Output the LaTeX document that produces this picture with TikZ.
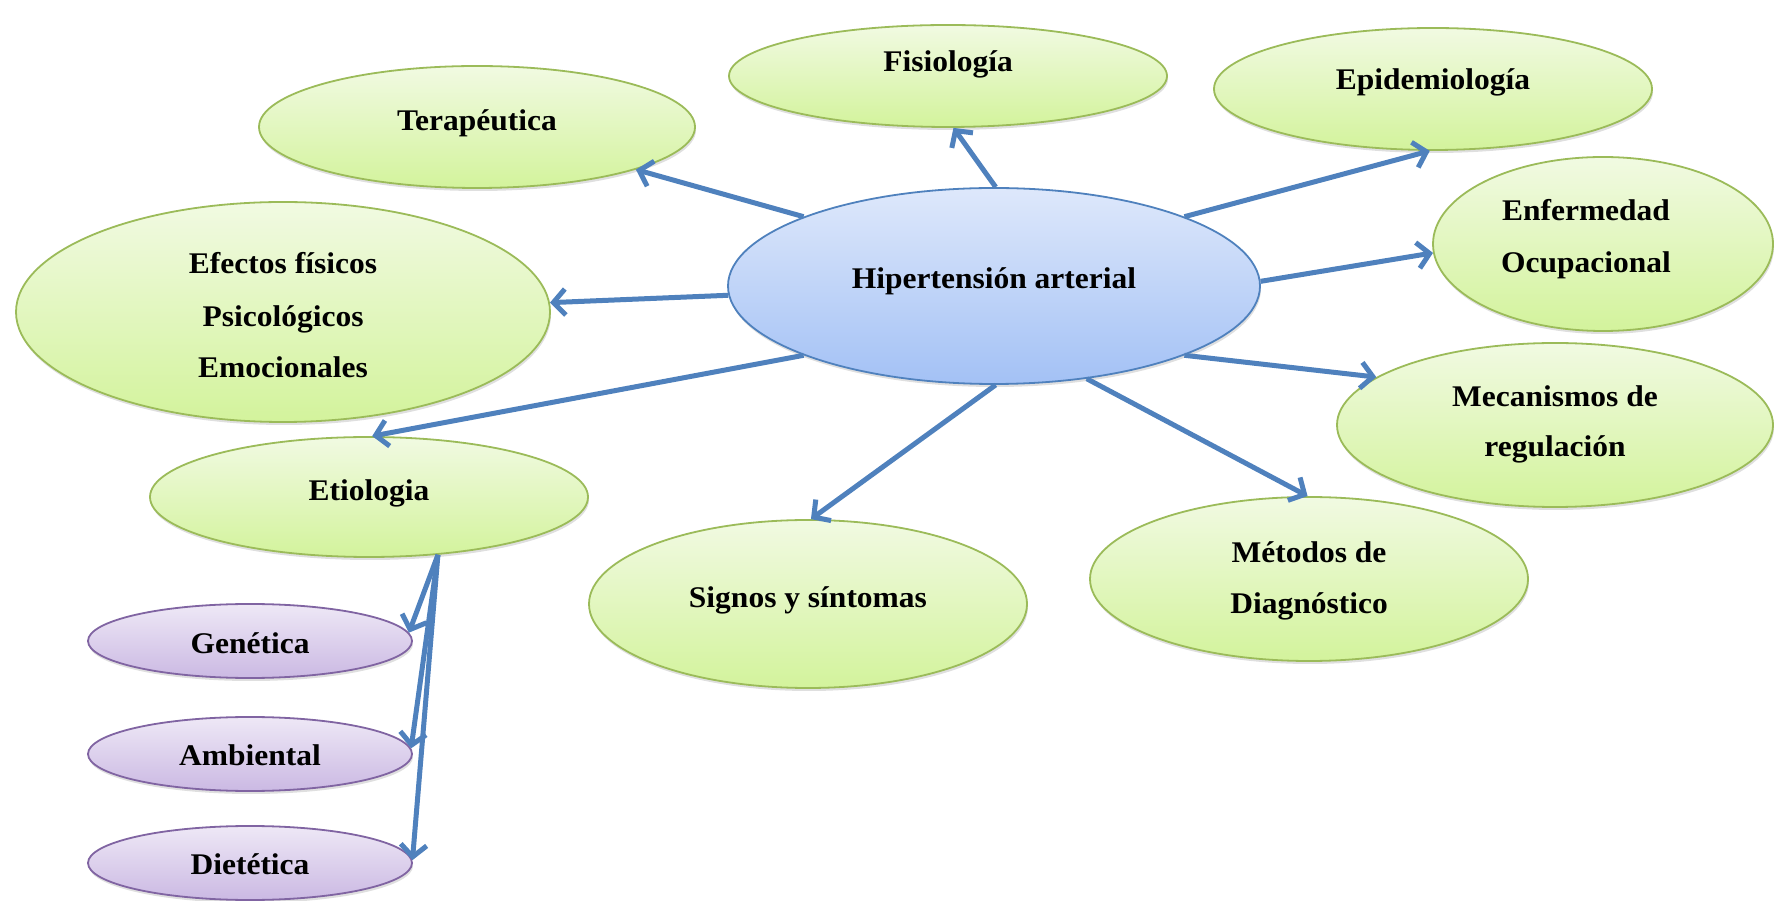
\documentclass[tikz,border=0pt]{standalone}
\usepackage{fontspec}
\setmainfont{Liberation Serif}[FakeStretch=1.05]
\usetikzlibrary{shapes.geometric,arrows.meta,shadows}
\definecolor{gborder}{HTML}{9BBB59}
\definecolor{gtop}{HTML}{F1FAE2}
\definecolor{gbot}{HTML}{D3F39C}
\definecolor{bborder}{HTML}{4F81BD}
\definecolor{btop}{HTML}{DEE8FB}
\definecolor{bbot}{HTML}{A3C1F5}
\definecolor{pborder}{HTML}{8064A2}
\definecolor{ptop}{HTML}{EEE8F6}
\definecolor{pbot}{HTML}{CBB9E3}
\definecolor{arrowblue}{HTML}{4F81BD}
\tikzset{
  bubble/.style={ellipse, inner sep=0pt, line width=1.8pt,
    drop shadow={opacity=0.25, shadow xshift=1pt, shadow yshift=-3pt}},
  greenbub/.style={bubble, draw=gborder, top color=gtop, bottom color=gbot},
  bluebub/.style={bubble, draw=bborder, top color=btop, bottom color=bbot},
  purplebub/.style={bubble, draw=pborder, top color=ptop, bottom color=pbot},
  lbl/.style={font=\bfseries\fontsize{30}{36}\selectfont, text height=0.7em, text depth=0.2em, inner sep=0pt, anchor=center},
  conn/.style={draw=arrowblue, line width=5pt, -{Straight Barb[length=12pt,width=26pt]}}
}
\begin{document}
\begin{tikzpicture}[x=1pt,y=1pt]
\useasboundingbox (0,0) rectangle (1780,900);
% ellipses
\node[greenbub, minimum width=438pt, minimum height=102pt] (fis) at (948,824) {};
\node[greenbub, minimum width=438pt, minimum height=122pt] (epi) at (1433,811) {};
\node[greenbub, minimum width=436pt, minimum height=122pt] (ter) at (477,773) {};
\node[greenbub, minimum width=340pt, minimum height=174pt] (enf) at (1603,656) {};
\node[greenbub, minimum width=534pt, minimum height=220pt] (efe) at (283,588) {};
\node[bluebub, minimum width=532pt, minimum height=196pt] (hip) at (994,614) {};
\node[greenbub, minimum width=436pt, minimum height=164pt] (mec) at (1555,475) {};
\node[greenbub, minimum width=438pt, minimum height=120pt] (eti) at (369,403) {};
\node[greenbub, minimum width=438pt, minimum height=168pt] (sig) at (808,296) {};
\node[greenbub, minimum width=438pt, minimum height=164pt] (met) at (1309,321) {};
\node[purplebub, minimum width=324pt, minimum height=74pt] (gen) at (250,259) {};
\node[purplebub, minimum width=324pt, minimum height=74pt] (amb) at (250,146) {};
\node[purplebub, minimum width=324pt, minimum height=74pt] (die) at (250,37) {};
% labels
\node[lbl] (tfis) at (948,831) {Fisiología};
\node[lbl] (tepi) at (1433,813) {Epidemiología};
\node[lbl] (tter) at (477,772) {Terapéutica};
\node[lbl] (tenfa) at (1586,682) {Enfermedad};
\node[lbl] (tenfb) at (1586,630) {Ocupacional};
\node[lbl] (tefea) at (283,629) {Efectos físicos};
\node[lbl] (tefeb) at (283,576) {Psicológicos};
\node[lbl] (tefec) at (283,525) {Emocionales};
\node[lbl] (thip) at (994,614) {Hipertensión arterial};
\node[lbl] (tmeca) at (1555,496) {Mecanismos de};
\node[lbl] (tmecb) at (1555,446) {regulación};
\node[lbl] (teti) at (369,402) {Etiologia};
\node[lbl] (tsig) at (808,295) {Signos y síntomas};
\node[lbl] (tmeta) at (1309,340) {Métodos de};
\node[lbl] (tmetb) at (1309,289) {Diagnóstico};
\node[lbl] (tgen) at (250,249) {Genética};
\node[lbl] (tamb) at (250,137) {Ambiental};
\node[lbl] (tdie) at (250,28) {Dietética};
% connectors
\draw[conn] (hip.160) -- (ter.-15);
\draw[conn] (hip.89) -- (fis.-84);
\draw[conn] (hip.20) -- (epi.-93);
\draw[conn] (hip.1) -- (enf.183);
\draw[conn] (hip.182) -- (efe.2);
\draw[conn] (hip.-20) -- (mec.165);
\draw[conn] (hip.200) -- (eti.87);
\draw[conn] (hip.271) -- (sig.88);
\draw[conn] (hip.-45) -- (met.91);
\draw[conn] (eti.-40) -- (gen.3);
\draw[conn] (eti.-40) -- (amb.2);
\draw[conn] (eti.-40) -- (die.1);
\end{tikzpicture}
\end{document}
